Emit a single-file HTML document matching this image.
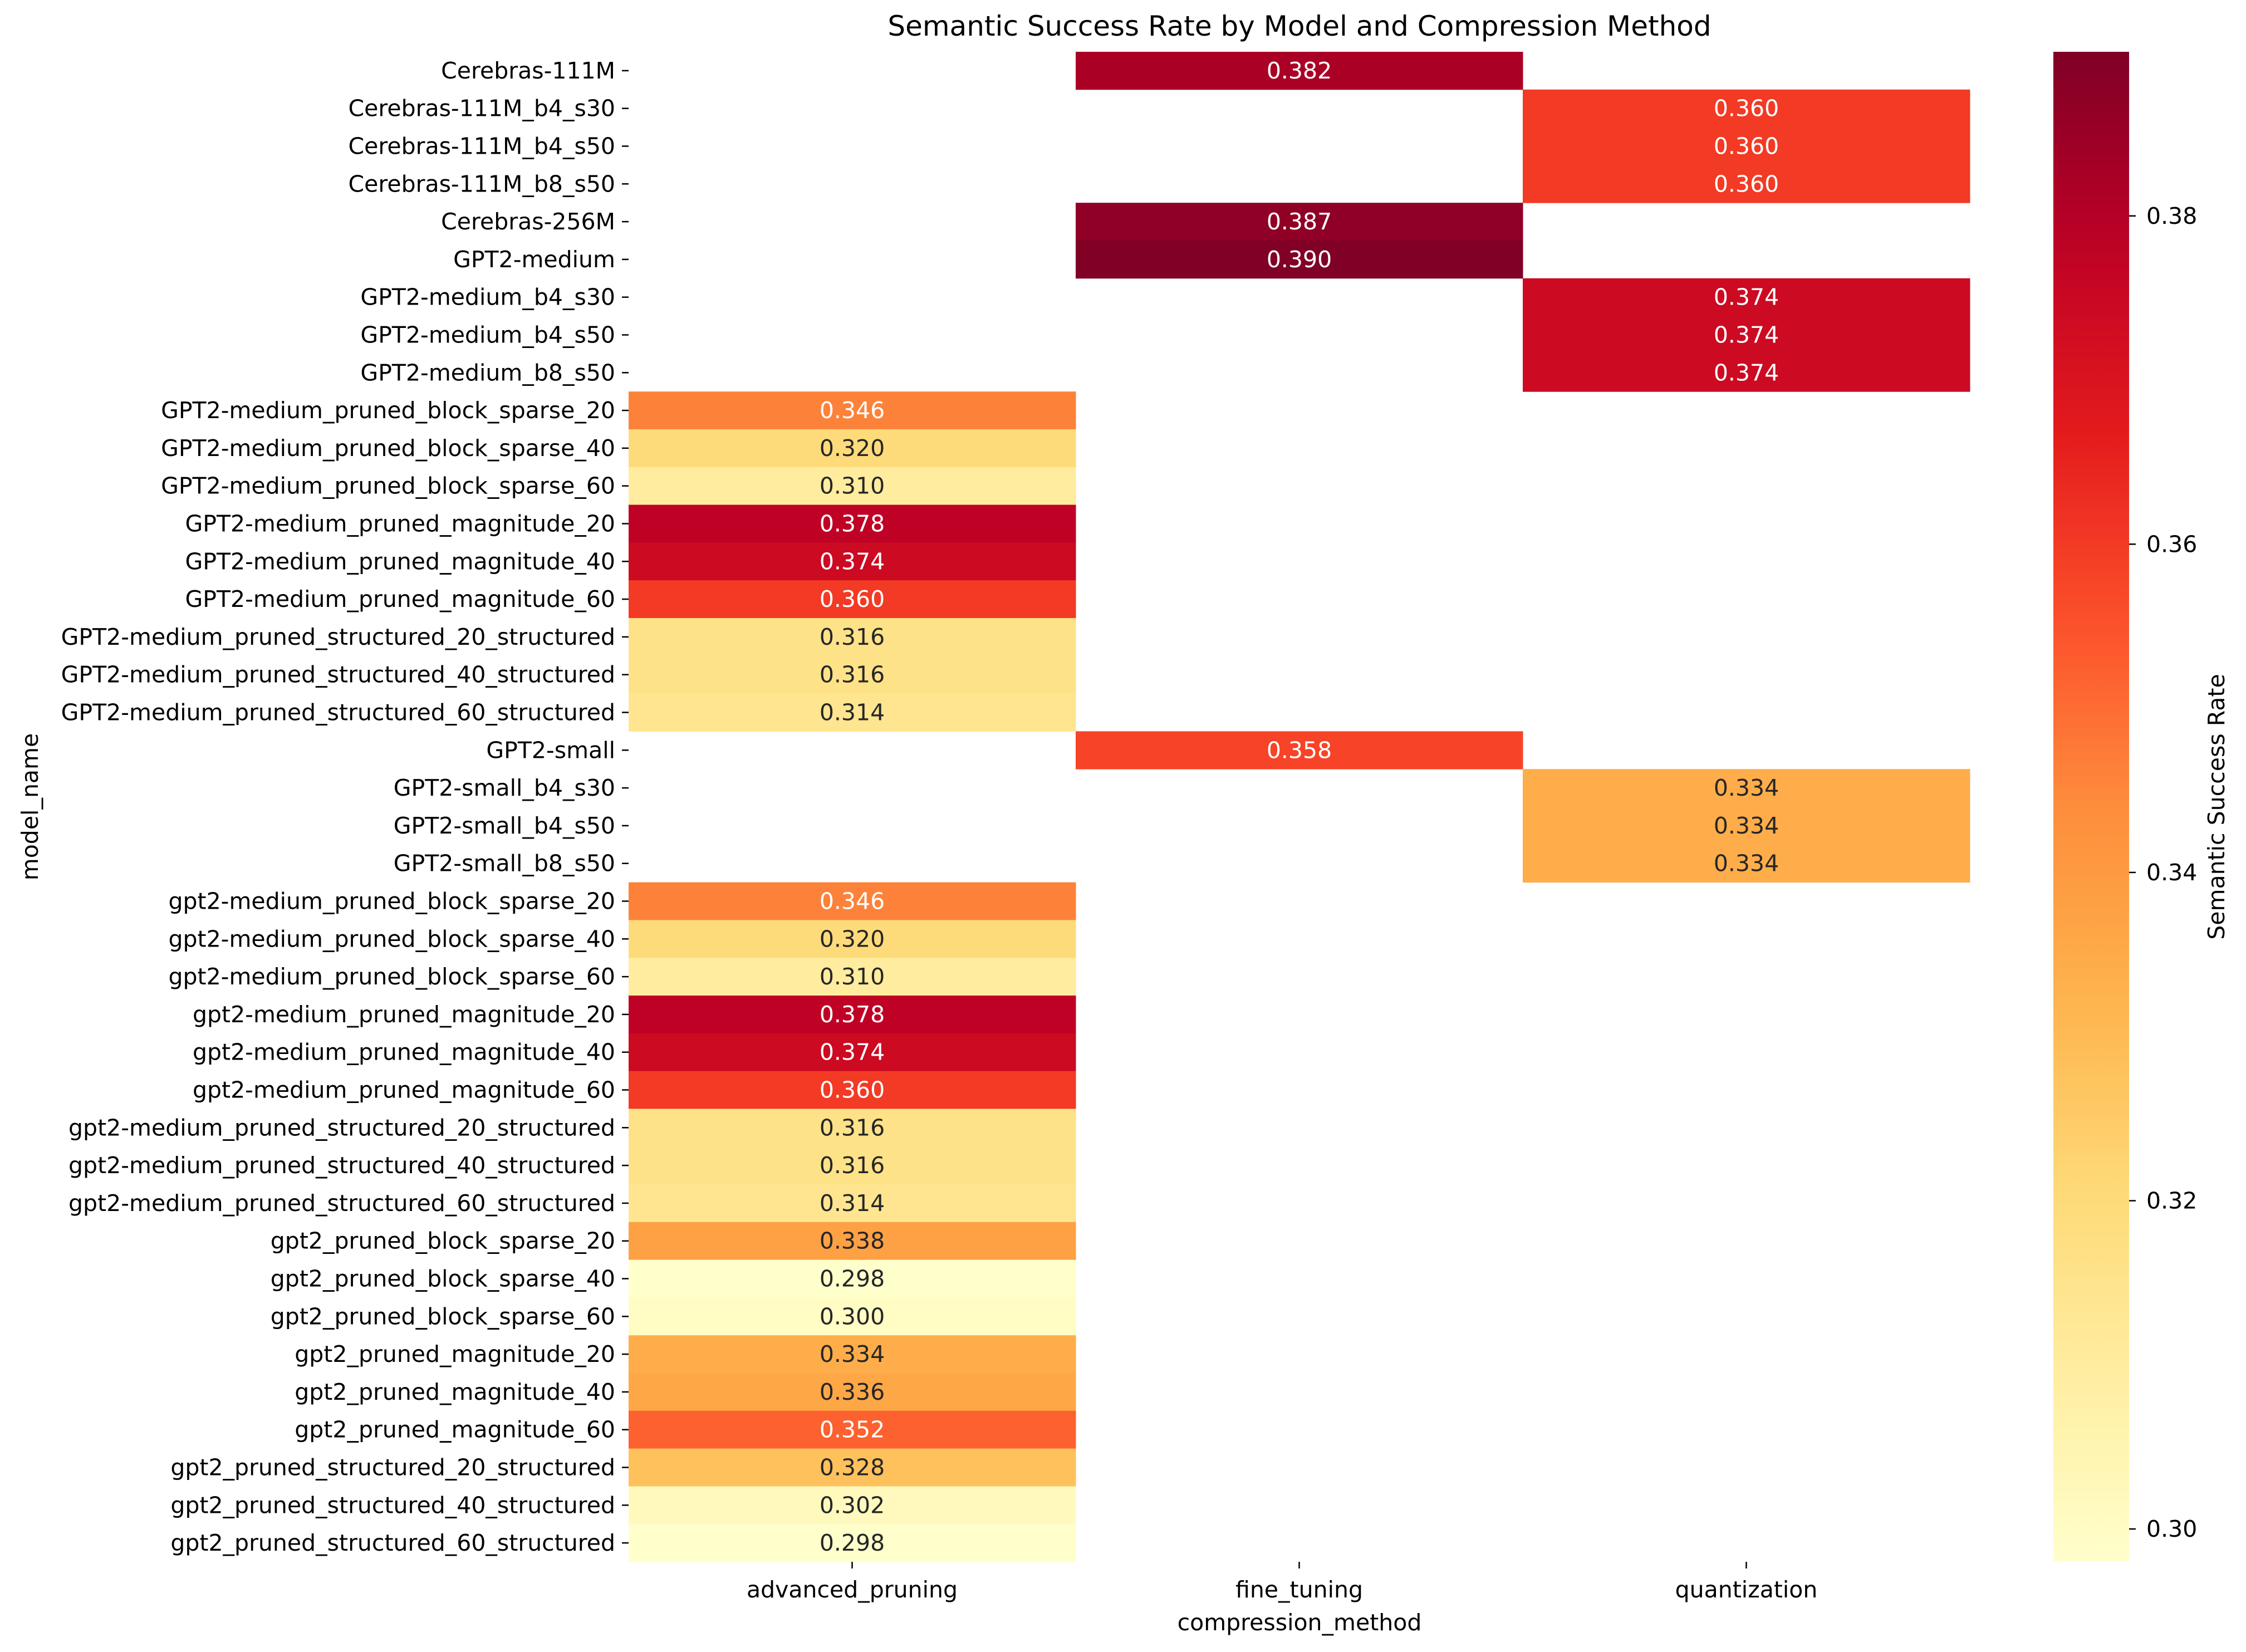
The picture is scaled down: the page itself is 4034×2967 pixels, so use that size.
<!DOCTYPE html>
<html><head><meta charset="utf-8"><style>
html,body{margin:0;padding:0;background:#fff;}
svg{display:block;font-family:"DejaVu Sans","Liberation Sans",sans-serif;}
</style></head><body>
<svg id="chart" width="4034" height="2967" viewBox="0 0 4034 2967" xmlns="http://www.w3.org/2000/svg">
<rect width="4034" height="2967" fill="#fff"/>
<text x="2334" y="64" font-size="50" text-anchor="middle">Semantic Success Rate by Model and Compression Method</text>
<g id="cells"></g>
<g id="yticks"></g>
<g id="xticks"></g>
<defs><linearGradient id="cbgrad" x1="0" y1="1" x2="0" y2="0"></linearGradient></defs>
<rect x="3688" y="93" width="136" height="2712" fill="url(#cbgrad)"/>
<g id="cbticks"></g>
<text transform="translate(3981,1449) rotate(-90)" font-size="41" text-anchor="middle" dominant-baseline="central">Semantic Success Rate</text>
<text transform="translate(54,1449) rotate(-90)" font-size="41" text-anchor="middle" dominant-baseline="central">model_name</text>
<text x="2334" y="2928" font-size="41" text-anchor="middle">compression_method</text>
</svg>
<script>
const methods = ["advanced_pruning","fine_tuning","quantization"];
const models = ["Cerebras-111M","Cerebras-111M_b4_s30","Cerebras-111M_b4_s50","Cerebras-111M_b8_s50","Cerebras-256M","GPT2-medium","GPT2-medium_b4_s30","GPT2-medium_b4_s50","GPT2-medium_b8_s50","GPT2-medium_pruned_block_sparse_20","GPT2-medium_pruned_block_sparse_40","GPT2-medium_pruned_block_sparse_60","GPT2-medium_pruned_magnitude_20","GPT2-medium_pruned_magnitude_40","GPT2-medium_pruned_magnitude_60","GPT2-medium_pruned_structured_20_structured","GPT2-medium_pruned_structured_40_structured","GPT2-medium_pruned_structured_60_structured","GPT2-small","GPT2-small_b4_s30","GPT2-small_b4_s50","GPT2-small_b8_s50","gpt2-medium_pruned_block_sparse_20","gpt2-medium_pruned_block_sparse_40","gpt2-medium_pruned_block_sparse_60","gpt2-medium_pruned_magnitude_20","gpt2-medium_pruned_magnitude_40","gpt2-medium_pruned_magnitude_60","gpt2-medium_pruned_structured_20_structured","gpt2-medium_pruned_structured_40_structured","gpt2-medium_pruned_structured_60_structured","gpt2_pruned_block_sparse_20","gpt2_pruned_block_sparse_40","gpt2_pruned_block_sparse_60","gpt2_pruned_magnitude_20","gpt2_pruned_magnitude_40","gpt2_pruned_magnitude_60","gpt2_pruned_structured_20_structured","gpt2_pruned_structured_40_structured","gpt2_pruned_structured_60_structured"];
const methodIndex = [1,2,2,2,1,1,2,2,2,0,0,0,0,0,0,0,0,0,1,2,2,2,0,0,0,0,0,0,0,0,0,0,0,0,0,0,0,0,0,0];
const values = [0.382,0.360,0.360,0.360,0.387,0.390,0.374,0.374,0.374,0.346,0.320,0.310,0.378,0.374,0.360,0.316,0.316,0.314,0.358,0.334,0.334,0.334,0.346,0.320,0.310,0.378,0.374,0.360,0.316,0.316,0.314,0.338,0.298,0.300,0.334,0.336,0.352,0.328,0.302,0.298];
const cbTicks = [0.30,0.32,0.34,0.36,0.38];

const NS="http://www.w3.org/2000/svg";
const L=1129,R=3538,T=93,B=2805;
const colW=(R-L)/methods.length, rowH=(B-T)/models.length;
const vmin=Math.min(...values), vmax=Math.max(...values);
const xPos=i=>L+i*colW, yPos=i=>T+i*rowH;
const cbY=v=>B-(v-vmin)/(vmax-vmin)*(B-T);
const stops=["#ffffcc","#ffeda0","#fed976","#feb24c","#fd8d3c","#fc4e2a","#e31a1c","#bd0026","#800026"].map(h=>[1,3,5].map(k=>parseInt(h.substr(k,2),16)));
function cmap(t){t=Math.max(0,Math.min(1,t));const p=t*(stops.length-1);const i=Math.min(Math.floor(p),stops.length-2);const f=p-i;return stops[i].map((c,k)=>Math.round(c+(stops[i+1][k]-c)*f));}
function lum(c){const l=c.map(x=>{x/=255;return x<=0.03928?x/12.92:Math.pow((x+0.055)/1.055,2.4);});return 0.2126*l[0]+0.7152*l[1]+0.0722*l[2];}
function mk(tag,attrs,parent){const e=document.createElementNS(NS,tag);for(const k in attrs)e.setAttribute(k,attrs[k]);parent.appendChild(e);return e;}

const cells=document.getElementById('cells');
values.forEach((v,i)=>{
  const c=cmap((v-vmin)/(vmax-vmin));
  const r=mk('rect',{x:xPos(methodIndex[i]),y:yPos(i),width:colW+0.5,height:rowH+0.5,fill:`rgb(${c.join(',')})`},cells);
  
  
  const t=mk('text',{x:xPos(methodIndex[i])+colW/2,y:yPos(i)+rowH/2,'font-size':41,'text-anchor':'middle','dominant-baseline':'central',fill:lum(c)>0.408?'#262626':'#ffffff'},cells);
  t.textContent=v.toFixed(3);
  
  
});
const yt=document.getElementById('yticks');
models.forEach((m,i)=>{
  const yc=yPos(i)+rowH/2;
  mk('line',{x1:L-12,x2:L,y1:yc,y2:yc,stroke:'#000','stroke-width':2.5},yt);
  const t=mk('text',{x:L-24,y:yc,'font-size':41,'text-anchor':'end','dominant-baseline':'central'},yt);
  t.textContent=m;
  
  
});
const xt=document.getElementById('xticks');
methods.forEach((m,i)=>{
  const xc=xPos(i)+colW/2;
  mk('line',{x1:xc,x2:xc,y1:B,y2:B+12,stroke:'#000','stroke-width':2.5},xt);
  const t=mk('text',{x:xc,y:B+50,'font-size':41,'text-anchor':'middle','dominant-baseline':'central'},xt);
  t.textContent=m;
  
  
});
const g=document.getElementById('cbgrad');
for(let i=0;i<=20;i++){const c=cmap(i/20);mk('stop',{offset:(i/20),'stop-color':`rgb(${c.join(',')})`},g);}
const cbt=document.getElementById('cbticks');
cbTicks.forEach(v=>{
  const y=cbY(v);
  mk('line',{x1:3824,x2:3836,y1:y,y2:y,stroke:'#000','stroke-width':2.5},cbt);
  const t=mk('text',{x:3855,y:y,'font-size':41,'dominant-baseline':'central'},cbt);
  t.textContent=v.toFixed(2);
  
  
});
</script>
</body></html>
